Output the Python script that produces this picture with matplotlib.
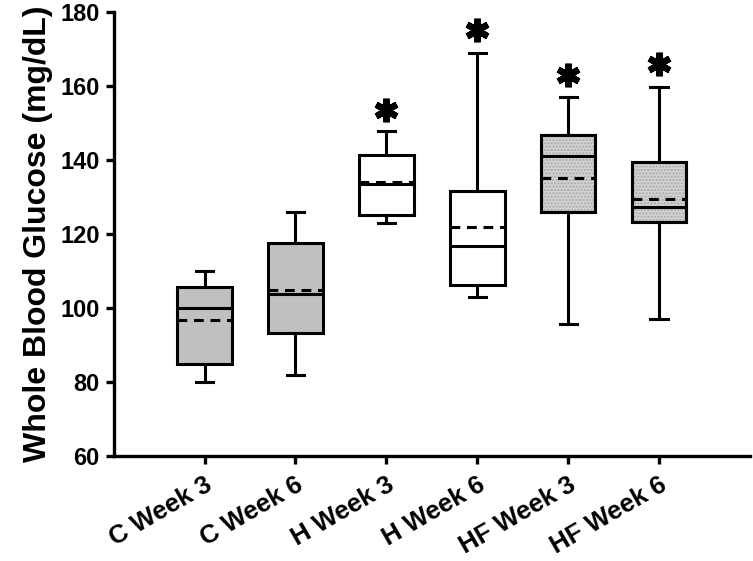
import matplotlib
matplotlib.use("Agg")
import matplotlib.pyplot as plt
from matplotlib.patches import PathPatch

plt.rcParams['font.family'] = ['Liberation Sans', 'DejaVu Sans']

categories = ["C Week 3", "C Week 6", "H Week 3", "H Week 6", "HF Week 3", "HF Week 6"]
whisker_low = [80.0, 81.8, 122.9, 103.0, 95.6, 97.0]
q1 = [84.8, 93.3, 125.1, 106.2, 125.8, 123.2]
median = [100.0, 103.8, 133.4, 116.7, 141.1, 127.4]
mean = [96.8, 104.9, 133.9, 121.8, 135.2, 129.4]
q3 = [105.8, 117.6, 141.4, 131.6, 146.7, 139.5]
whisker_high = [110.0, 125.9, 147.9, 168.8, 156.9, 159.8]
fill_colors = ["#c0c0c0", "#c0c0c0", "#ffffff", "#ffffff", "#d2d2d2", "#d2d2d2"]
stippled = [False, False, False, False, True, True]
star_groups = [3, 4, 5, 6]
star_y = [153.5, 175.0, 163.0, 166.0]
yticks = [60, 80, 100, 120, 140, 160, 180]

fig = plt.figure(figsize=(7.53, 5.61), dpi=100)
ax = fig.add_axes([0.151, 0.187, 0.845, 0.792])

stats = []
for i, name in enumerate(categories):
    stats.append(dict(label=name, whislo=whisker_low[i], q1=q1[i], med=median[i],
                      mean=mean[i], q3=q3[i], whishi=whisker_high[i], fliers=[]))

positions = list(range(1, len(categories) + 1))
lw = 2.2
bp = ax.bxp(stats, positions=positions, widths=0.6, patch_artist=True,
            showmeans=True, meanline=True, showfliers=False,
            boxprops=dict(linewidth=lw, edgecolor='black'),
            whiskerprops=dict(linewidth=lw, color='black'),
            capprops=dict(linewidth=lw, color='black'),
            medianprops=dict(linewidth=lw, color='black'),
            meanprops=dict(linewidth=lw, color='black', linestyle=(0, (3.2, 2.2))),
            capwidths=0.19)

for key in ['medians', 'means', 'whiskers', 'caps']:
    for ln in bp[key]:
        ln.set_zorder(4)

for i, box in enumerate(bp['boxes']):
    box.set_facecolor(fill_colors[i])
    box.set_zorder(2)
    if stippled[i]:
        hp = PathPatch(box.get_path(), transform=box.get_transform(), facecolor='none',
                       edgecolor='#a8a8a8', linewidth=0, hatch='.....', zorder=2.5)
        ax.add_patch(hp)
        ol = PathPatch(box.get_path(), transform=box.get_transform(), facecolor='none',
                       edgecolor='black', linewidth=lw, zorder=3)
        ax.add_patch(ol)

ax.plot(star_groups, star_y, linestyle='none', marker=(6, 2, 0), markersize=17,
        markeredgewidth=4.6, color='black', zorder=5)

ax.set_xlim(0, 7)
ax.set_ylim(60, 180)
ax.set_yticks(yticks)
ax.set_yticklabels([str(v) for v in yticks], fontsize=17, fontweight='bold')
ax.set_xticks(positions)
ax.set_xticklabels(categories, fontsize=18.5, fontweight='bold',
                   rotation=30, ha='right', rotation_mode='anchor')
ax.set_ylabel("Whole Blood Glucose (mg/dL)", fontsize=23, fontweight='bold', labelpad=5)

for s in ['top', 'right']:
    ax.spines[s].set_visible(False)
for s in ['left', 'bottom']:
    ax.spines[s].set_linewidth(2.4)
ax.tick_params(axis='y', width=2.4, length=6, direction='out', pad=4)
ax.tick_params(axis='x', width=2.4, length=6, direction='out', pad=6)

fig.savefig("out.png", dpi=100)
